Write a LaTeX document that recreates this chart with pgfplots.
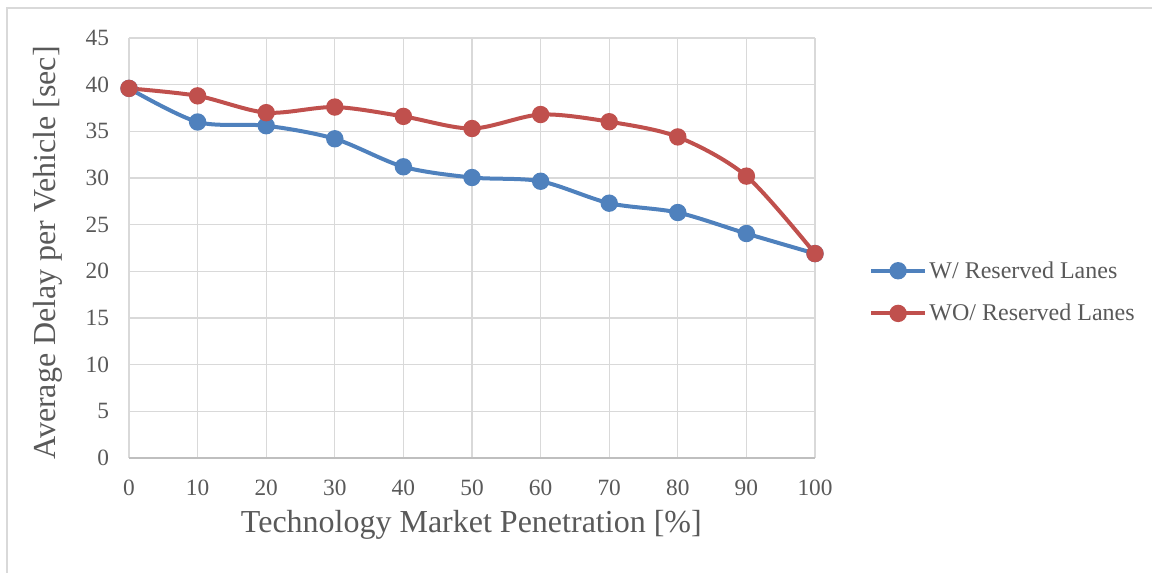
\documentclass[border=0pt]{standalone}
\usepackage{pgfplots}
\pgfplotsset{compat=1.18}
\usepackage{fontspec}
\setmainfont{Liberation Serif}
\definecolor{cblue}{RGB}{79,129,189}
\definecolor{cred}{RGB}{192,80,77}
\definecolor{gridc}{RGB}{217,217,217}
\definecolor{axc}{RGB}{191,191,191}
\definecolor{txt}{RGB}{89,89,89}
\begin{document}
\begin{tikzpicture}
\path[use as bounding box] (0,0) rectangle (864pt,429.75pt);
\draw[gridc, line width=1pt] (5.25pt,0) -- (5.25pt,423.75pt) -- (864pt,423.75pt);
\begin{axis}[
  at={(96.75pt,86.25pt)}, anchor=south west,
  scale only axis, width=514.5pt, height=315pt,
  xmin=0, xmax=100, ymin=0, ymax=45,
  xtick={0,10,...,100}, ytick={0,5,...,45},
  grid=major,
  major grid style={gridc, line width=1pt},
  axis line style={draw=none},
  major tick length=0pt,
  /pgf/number format/assume math mode=true,
  tick label style={font=\fontsize{17.5}{17.5}\selectfont, text=txt},
  xticklabel style={yshift=-13pt},
  yticklabel style={xshift=-11.5pt},
  xlabel={Technology Market Penetration [\%]},
  ylabel={Average Delay per Vehicle [sec]},
  every axis x label/.style={at={(axis description cs:0.499,-0.16)}, anchor=center, font=\fontsize{24}{24}\selectfont, text=txt},
  every axis y label/.style={at={(axis description cs:-0.118,0.488)}, anchor=center, rotate=90, font=\fontsize{24}{24}\selectfont, text=txt},
  legend style={at={(axis description cs:1.079,0.395)}, anchor=west, draw=none, fill=none,
    font=\fontsize{18}{18}\selectfont, text=txt, row sep=14pt, inner sep=0pt},
  legend cell align=left,
  legend image code/.code={\draw[mark repeat=2,mark phase=2,#1] plot coordinates {(0pt,0pt) (20pt,0pt) (40pt,0pt)};},
  clip=false,
]
\draw[axc, line width=1pt] (axis cs:0,0) -- (axis cs:100,0);
\addplot[cblue, line width=3pt, smooth, tension=0.5, mark=*, mark size=5pt, mark options={solid, fill=cblue}] coordinates {
(0,39.6) (10,36.0) (20,35.6) (30,34.2) (40,31.2) (50,30.05) (60,29.65) (70,27.3) (80,26.3) (90,24.05) (100,21.9)};
\addlegendentry{W/ Reserved Lanes}
\addplot[cred, line width=3pt, smooth, tension=0.5, mark=*, mark size=5pt, mark options={solid, fill=cred}] coordinates {
(0,39.6) (10,38.8) (20,37.0) (30,37.6) (40,36.6) (50,35.3) (60,36.8) (70,36.03) (80,34.4) (90,30.2) (100,21.9)};
\addlegendentry{WO/ Reserved Lanes}
\end{axis}
\end{tikzpicture}
\end{document}
